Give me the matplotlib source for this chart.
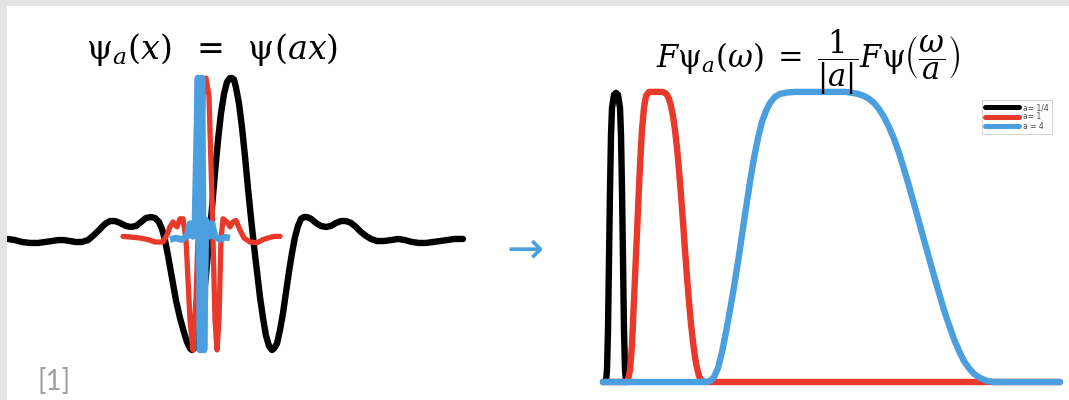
import matplotlib
matplotlib.use("Agg")
import matplotlib.pyplot as plt
from matplotlib.patches import Rectangle

plt.rcParams['mathtext.fontset'] = 'dejavuserif'

BLACK = '#000000'
RED = '#e8392b'
BLUE = '#4b9fdf'

# ---------------------------------------------------------------
# time domain: psi_a(x) for three scales (t, amplitude)
# ---------------------------------------------------------------
t_quarter = [-22.2, -21.5, -20.8, -20.0, -19.2, -18.5, -17.8, -17.2, -16.6, -16.0,
             -15.4, -14.8, -14.2, -13.6, -13.0, -12.5, -12.0, -11.5, -11.0, -10.4,
             -9.9, -9.4, -8.9, -8.4, -7.9, -7.5, -7.1, -6.8, -6.5, -6.2,
             -5.8, -5.4, -5.0, -4.6, -4.3, -4.0, -3.8, -3.6, -3.4, -3.2,
             -3.0, -2.7, -2.4, -2.1, -1.8, -1.5, -1.2, -0.9, -0.6, -0.3,
             0.0, 0.2, 0.4, 0.6, 0.9, 1.2, 1.5, 1.8, 2.1, 2.4,
             2.7, 3.0, 3.3, 3.6, 3.9, 4.2, 4.4, 4.7, 5.0, 5.3,
             5.6, 5.9, 6.2, 6.5, 6.8, 7.1, 7.4, 7.7, 8.1, 8.6,
             9.1, 9.6, 10.1, 10.6, 11.1, 11.6, 12.1, 12.6, 13.1, 13.6,
             14.1, 14.7, 15.4, 16.1, 16.8, 17.5, 18.2, 18.9, 19.6, 20.3,
             21.0, 21.7, 22.4, 23.3]
psi_quarter = [-0.006, -0.013, -0.025, -0.031, -0.031, -0.025, -0.019, -0.013, -0.013, -0.019,
               -0.025, -0.025, -0.013, 0.019, 0.056, 0.088, 0.106, 0.106, 0.094, 0.075,
               0.069, 0.075, 0.10, 0.125, 0.131, 0.125, 0.10, 0.056, -0.013, -0.11,
               -0.25, -0.39, -0.50, -0.59, -0.65, -0.69, -0.70, -0.69, -0.67, -0.62,
               -0.54, -0.41, -0.23, -0.03, 0.19, 0.41, 0.61, 0.78, 0.90, 0.975,
               1.0, 1.0, 0.99, 0.94, 0.84, 0.69, 0.51, 0.31, 0.125, -0.05,
               -0.21, -0.37, -0.50, -0.61, -0.675, -0.70, -0.69, -0.66, -0.575, -0.47,
               -0.34, -0.21, -0.094, 0.006, 0.075, 0.12, 0.131, 0.131, 0.12, 0.094,
               0.075, 0.069, 0.075, 0.094, 0.106, 0.106, 0.094, 0.069, 0.037, 0.013,
               -0.006, -0.019, -0.019, -0.013, -0.006, -0.013, -0.025, -0.031, -0.031, -0.025,
               -0.019, -0.013, -0.006, -0.006]

t_one = [-10.7, -9.8, -9.0, -8.2, -7.5, -6.7, -6.3, -6.0, -5.7, -5.3,
         -5.0, -4.7, -4.4, -4.0, -3.7, -3.4, -3.0, -2.7, -2.4, -2.1,
         -1.8, -1.5, -1.3, -1.1, -0.9, -0.7, -0.3, 0.0, 0.3, 0.6,
         1.0, 1.4, 2.0, 2.7, 3.3, 3.8, 4.4, 5.0]
psi_one = [0.01, 0.005, 0.0, -0.01, -0.025, -0.025, 0.02, 0.07, 0.10, 0.07,
           0.12, 0.12, -0.01, -0.51, -0.70, -0.375, 0.36, 0.89, 1.0, 0.89,
           0.24, -0.51, -0.70, -0.51, -0.01, 0.12, 0.10, 0.07, 0.10, 0.11,
           0.05, 0.0, -0.025, -0.03, -0.01, 0.0, 0.01, 0.01]

t_four = [-6.0, -5.4, -4.8, -4.3, -4.0, -3.7, -3.5, -3.2, -3.0, -2.8,
          -2.6, -2.4, -2.1, -1.8, -1.5, -1.0, -0.5, 0.0]
psi_four = [-0.01, 0.0, -0.01, 0.01, 0.09, 0.01, 0.11, 1.0, -0.70, 1.0,
            -0.70, 0.11, 0.01, 0.09, 0.01, -0.01, 0.005, 0.0]

# ---------------------------------------------------------------
# frequency domain: |F psi_a(w)| (w, magnitude)
# ---------------------------------------------------------------
w_quarter = [0.0, 0.3, 0.4, 0.5, 0.6, 0.7, 0.8, 0.9, 1.1, 1.3,
             1.5, 1.7, 1.8, 1.9, 2.0, 2.1, 2.2, 2.3, 2.5]
F_quarter = [0.0, 0.003, 0.041, 0.179, 0.421, 0.662, 0.852, 0.945, 0.99, 0.997,
             0.99, 0.945, 0.852, 0.662, 0.421, 0.179, 0.041, 0.003, 0.0]

w_one = [0.0, 2.4, 2.5, 2.7, 2.9, 3.1, 3.3, 3.5, 3.7, 3.9,
         4.1, 4.3, 4.6, 5.9, 6.2, 6.4, 6.6, 6.8, 7.0, 7.2,
         7.4, 7.6, 7.8, 8.0, 8.2, 8.4, 8.6, 8.8, 9.0, 9.2,
         9.4, 9.6, 9.8, 10.1, 45.7]
F_one = [0.0, 0.0, 0.007, 0.041, 0.128, 0.283, 0.438, 0.593, 0.748, 0.869,
         0.945, 0.986, 1.0, 1.0, 0.997, 0.99, 0.976, 0.952, 0.917, 0.869,
         0.807, 0.731, 0.645, 0.552, 0.455, 0.362, 0.276, 0.20, 0.138, 0.086,
         0.048, 0.021, 0.007, 0.0, 0.0]

w_four = [0.0, 10.2, 10.7, 11.1, 11.5, 11.9, 12.3, 12.7, 13.1, 13.5,
          13.9, 14.3, 14.7, 15.1, 15.5, 15.9, 16.3, 16.7, 17.2, 17.7,
          18.4, 19.2, 24.2, 24.9, 25.5, 26.1, 26.6, 27.1, 27.6, 28.1,
          28.6, 29.1, 29.6, 30.1, 30.6, 31.1, 31.6, 32.1, 32.6, 33.1,
          33.6, 34.1, 34.6, 35.1, 35.6, 36.1, 36.6, 37.1, 37.7, 38.3,
          39.0, 45.7]
F_four = [0.0, 0.0, 0.003, 0.017, 0.048, 0.103, 0.172, 0.248, 0.328, 0.414,
          0.507, 0.60, 0.69, 0.772, 0.841, 0.897, 0.934, 0.962, 0.983, 0.993,
          0.998, 1.0, 1.0, 0.997, 0.993, 0.986, 0.976, 0.962, 0.941, 0.914,
          0.879, 0.838, 0.79, 0.734, 0.676, 0.614, 0.552, 0.49, 0.428, 0.366,
          0.307, 0.248, 0.197, 0.148, 0.107, 0.072, 0.048, 0.028, 0.014, 0.005,
          0.0, 0.0]

scale_labels = ['a= 1/4', 'a= 1', 'a = 4']

fig = plt.figure(figsize=(10.69, 4.0), dpi=100)
fig.patch.set_facecolor('white')

# light grey frame along the top and left edge
fig.add_artist(Rectangle((0, 0), 7 / 1069, 1, transform=fig.transFigure,
                         facecolor='#e4e4e4', edgecolor='none'))
fig.add_artist(Rectangle((0, 1 - 6 / 400), 1, 6 / 400, transform=fig.transFigure,
                         facecolor='#e4e4e4', edgecolor='none'))

round_kw = dict(solid_capstyle='round', solid_joinstyle='round')

# left panel: wavelets in time
ax1 = fig.add_axes([0.0, 0.075, 470 / 1069, 0.775])
ax1.plot(t_quarter, psi_quarter, color=BLACK, lw=4.6, **round_kw)
ax1.plot(t_one, psi_one, color=RED, lw=3.8, **round_kw)
ax1.plot(t_four, psi_four, color=BLUE, lw=4.8, solid_capstyle='butt', solid_joinstyle='round')
ax1.set_xlim(-23, 24)
ax1.set_ylim(-0.825, 1.1125)
ax1.axis('off')

# right panel: spectra
ax2 = fig.add_axes([590 / 1069, 0.0125, 479 / 1069, 0.8375])
ax2.plot(w_quarter, F_quarter, color=BLACK, lw=4.6, label=scale_labels[0], **round_kw)
ax2.plot(w_one, F_one, color=RED, lw=4.6, label=scale_labels[1], **round_kw)
ax2.plot(w_four, F_four, color=BLUE, lw=4.6, label=scale_labels[2], **round_kw)
ax2.set_xlim(-1.3, 46.6)
ax2.set_ylim(-0.0448, 1.110)
ax2.axis('off')
leg = ax2.legend(loc='upper right', bbox_to_anchor=(0.9645, 0.8806), fontsize=5.5,
                 handlelength=4.4, handletextpad=0.6, labelspacing=0.05,
                 borderpad=0.4, borderaxespad=0, fancybox=False, framealpha=1)
leg.get_frame().set_edgecolor('#cccccc')
leg.get_frame().set_linewidth(0.6)
for line in leg.get_lines():
    line.set_linewidth(3.6)
for txt in leg.get_texts():
    txt.set_color('#444444')

# formulas
fig.text(212 / 1069, 1 - 49 / 400, r'$\mathrm{\psi}_a(x)\;\;=\;\;\mathrm{\psi}(ax)$',
         fontsize=24, ha='center', va='center')
fig.text(808 / 1069, 1 - 62 / 400,
         r'$F\mathrm{\psi}_a(\omega)\;=\;\dfrac{1}{|a|}F\mathrm{\psi}\left(\dfrac{\omega}{a}\right)$',
         fontsize=22, ha='center', va='center')

fig.text(525 / 1069, 1 - 250 / 400, '→', fontsize=32, color=BLUE,
         ha='center', va='center')
fig.text(38 / 1069, 1 - 382 / 400, '[1]', fontsize=20, color='#a0a0a0',
         family='Lato', ha='left', va='center')

fig.savefig('out.png', dpi=100)
